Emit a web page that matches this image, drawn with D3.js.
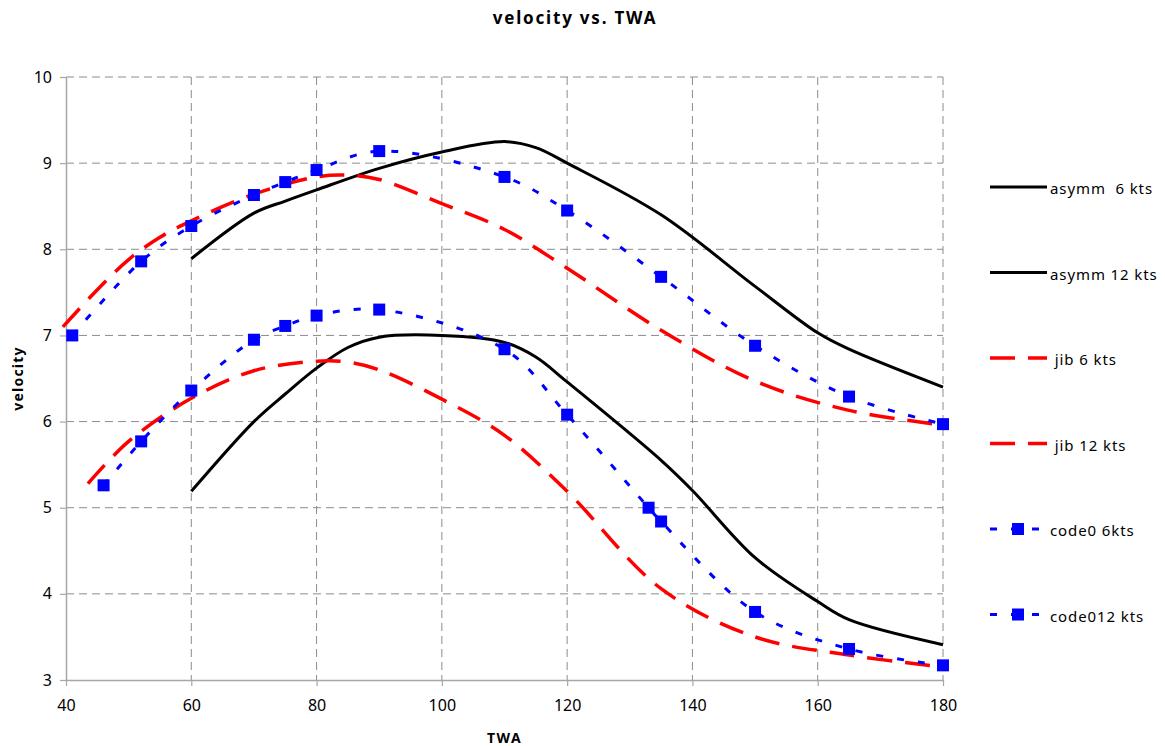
<!DOCTYPE html>
<html>
<head>
<meta charset="utf-8">
<script src="https://cdn.jsdelivr.net/npm/d3@7"></script>
<style>
  body { margin: 0; background: #fff; }
  text { font-family: "Noto Sans", sans-serif; fill: #000; }
</style>
</head>
<body>
<svg id="svg"></svg>
<script>
// TWA / velocity pairs
const asymm6 = [[60, 5.19], [70, 6.0], [75, 6.32], [80, 6.62], [85, 6.86], [90, 6.98], [100, 7.0], [110, 6.92],
                [115, 6.75], [120, 6.46], [135, 5.55], [140, 5.2], [150, 4.42], [160, 3.91], [165, 3.70], [180, 3.41]];
const asymm12 = [[60, 7.89], [70, 8.42], [75, 8.56], [80, 8.69], [90, 8.94], [100, 9.13], [110, 9.25], [115, 9.18],
                 [120, 9.0], [135, 8.40], [150, 7.57], [160, 7.03], [165, 6.84], [180, 6.40]];
const jib6 = [[43.5, 5.28], [50, 5.77], [60, 6.27], [70, 6.59], [80, 6.70], [85, 6.69], [90, 6.60], [100, 6.26],
              [110, 5.84], [120, 5.19], [135, 4.06], [150, 3.5], [165, 3.29], [180, 3.15]];
const jib12 = [[39.5, 7.1], [45, 7.53], [50, 7.88], [55, 8.14], [60, 8.33], [70, 8.64], [80, 8.84], [85, 8.86],
               [90, 8.81], [100, 8.53], [110, 8.23], [120, 7.78], [135, 7.06], [150, 6.47], [165, 6.13], [180, 5.96]];
const code06 = [[46, 5.26], [52, 5.77], [60, 6.36], [70, 6.95], [75, 7.11], [80, 7.23], [90, 7.30], [110, 6.84],
                [120, 6.08], [133, 5.0], [135, 4.84], [150, 3.79], [165, 3.36], [180, 3.17]];
const code012 = [[41, 7.0], [52, 7.86], [60, 8.27], [70, 8.63], [75, 8.78], [80, 8.92], [90, 9.14], [110, 8.84],
                 [120, 8.45], [135, 7.68], [150, 6.88], [165, 6.29], [180, 5.97]];

const xTicks = [40, 60, 80, 100, 120, 140, 160, 180];
const yTicks = [3, 4, 5, 6, 7, 8, 9, 10];
const seriesNames = ["asymm  6 kts", "asymm 12 kts", " jib 6 kts", " jib 12 kts", "code0 6kts", "code012 kts"];

const width = 1165;
const height = 746;
const margin = {top: 77, right: 222, bottom: 66, left: 66};
const innerW = width - margin.left - margin.right;
const innerH = height - margin.top - margin.bottom;

const styles = [
  {stroke: "#000", width: 3, dash: null, marker: false},
  {stroke: "#000", width: 3, dash: null, marker: false},
  {stroke: "#ff0000", width: 3.5, dash: "25,13", marker: false},
  {stroke: "#ff0000", width: 3.5, dash: "25,13", marker: false},
  {stroke: "#0000ff", width: 3, dash: "7,14", marker: true},
  {stroke: "#0000ff", width: 3, dash: "7,14", marker: true}
];
const allSeries = [asymm6, asymm12, jib6, jib12, code06, code012];

const svg = d3.select("#svg")
              .attr("width", width)
              .attr("height", height);

const g = svg.append("g")
             .attr("transform", "translate(" + margin.left + "," + margin.top + ")");

const x = d3.scaleLinear().domain([40, 180]).range([0, innerW]);
const y = d3.scaleLinear().domain([3, 10]).range([innerH, 0]);

// dashed grid
g.append("g")
 .selectAll("line")
 .data(xTicks.slice(1))
 .enter()
 .append("line")
 .attr("x1", d => x(d)).attr("x2", d => x(d))
 .attr("y1", 0).attr("y2", innerH)
 .attr("stroke", "#8c8c8c")
 .attr("stroke-dasharray", "8,5");

g.append("g")
 .selectAll("line")
 .data(yTicks.slice(1))
 .enter()
 .append("line")
 .attr("x1", 0).attr("x2", innerW)
 .attr("y1", d => y(d)).attr("y2", d => y(d))
 .attr("stroke", "#8c8c8c")
 .attr("stroke-dasharray", "8,5");

// axes
const xAxis = g.append("g")
               .attr("transform", "translate(0," + innerH + ")")
               .call(d3.axisBottom(x).tickValues(xTicks).tickFormat(d3.format("d"))
                       .tickSize(6).tickPadding(14).tickSizeOuter(0));
const yAxis = g.append("g")
               .call(d3.axisLeft(y).tickValues(yTicks).tickFormat(d3.format("d"))
                       .tickSize(6).tickPadding(8).tickSizeOuter(0));

[xAxis, yAxis].forEach(a => {
  a.select(".domain").attr("stroke", "#a6a6a6").attr("stroke-width", 1.5);
  a.selectAll(".tick line").attr("stroke", "#a6a6a6").attr("stroke-width", 1.2);
  a.selectAll(".tick text")
   .style("font-family", "'Noto Sans', sans-serif")
   .style("font-size", "16px")
   .attr("fill", "#000");
});

// series
const line = d3.line()
               .x(d => x(d[0]))
               .y(d => y(d[1]))
               .curve(d3.curveCatmullRom.alpha(0.5));

allSeries.forEach((s, i) => {
  const st = styles[i];
  g.append("path")
   .datum(s)
   .attr("d", line)
   .attr("fill", "none")
   .attr("stroke", st.stroke)
   .attr("stroke-width", st.width)
   .attr("stroke-dasharray", st.dash);
  if (st.marker) {
    g.append("g")
     .selectAll("rect")
     .data(s)
     .enter()
     .append("rect")
     .attr("x", d => x(d[0]) - 6)
     .attr("y", d => y(d[1]) - 6)
     .attr("width", 12)
     .attr("height", 12)
     .attr("fill", "#0000ff");
  }
});

// title and axis labels
svg.append("text")
   .attr("x", 575)
   .attr("y", 24)
   .attr("text-anchor", "middle")
   .style("font-weight", "bold")
   .style("font-size", "17px")
   .style("letter-spacing", "1.8px")
   .text("velocity vs. TWA");

svg.append("text")
   .attr("x", margin.left + innerW / 2)
   .attr("y", 743)
   .attr("text-anchor", "middle")
   .style("font-weight", "bold")
   .style("font-size", "14px")
   .style("letter-spacing", "1.5px")
   .text("TWA");

svg.append("text")
   .attr("transform", "translate(23," + (margin.top + innerH / 2) + ") rotate(-90)")
   .attr("text-anchor", "middle")
   .style("font-weight", "bold")
   .style("font-size", "14px")
   .style("letter-spacing", "1.2px")
   .text("velocity");

// legend
const legend = svg.append("g").attr("transform", "translate(990,187)");
seriesNames.forEach((name, i) => {
  const st = styles[i];
  const row = legend.append("g").attr("transform", "translate(0," + (i * 85.5) + ")");
  row.append("line")
     .attr("x1", 0).attr("x2", 57)
     .attr("y1", 0).attr("y2", 0)
     .attr("stroke", st.stroke)
     .attr("stroke-width", st.width)
     .attr("stroke-dasharray", st.dash);
  if (st.marker) {
    row.append("rect")
       .attr("x", 22).attr("y", -6)
       .attr("width", 12).attr("height", 12)
       .attr("fill", "#0000ff");
  }
  row.append("text")
     .attr("x", 60)
     .attr("y", 7)
     .style("font-size", "15px")
     .style("letter-spacing", "0.9px")
     .style("white-space", "pre")
     .text(name);
});
</script>
</body>
</html>
